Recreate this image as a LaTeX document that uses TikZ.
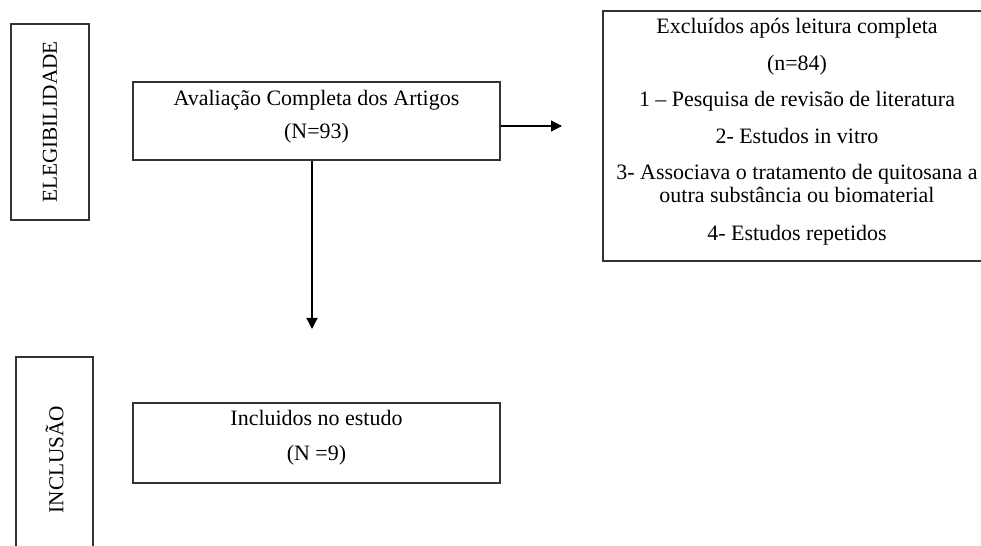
\documentclass[tikz,border=0pt]{standalone}
\usepackage{fontspec}
\setmainfont{Liberation Serif}
\usetikzlibrary{arrows.meta}

\begin{document}
\begin{tikzpicture}

\tikzset{
    box/.style={draw=black!80, line width=0.75pt, rectangle, inner sep=0pt, align=center, font=\fontsize{12.5}{13}\selectfont},
    phase/.style={draw=black!80, line width=0.75pt, rectangle, inner sep=0pt, font=\fontsize{12.1}{13}\selectfont},
    flow/.style={line width=0.7pt, -{Triangle[length=2.2mm, width=2.2mm]}}
}
\useasboundingbox (0,0) rectangle (19.62,-10.92);
\clip (0,0) rectangle (19.62,-10.92);

\node[phase, minimum width=1.56cm, minimum height=3.92cm] (elegib) at (1.0,-2.44) {\rotatebox{90}{ELEGIBILIDADE}};
\node[phase, minimum width=1.54cm, minimum height=4.1cm] (inclus) at (1.09,-9.19) {\rotatebox{90}{INCLUSÃO}};

\node[box, minimum width=7.34cm, minimum height=1.56cm, text depth=8pt] (avalia) at (6.33,-2.42) {Avaliação Completa dos Artigos\\[5.7pt] (N=93)};
\node[box, minimum width=7.76cm, minimum height=5.0cm, text depth=8pt] (exclui) at (15.94,-2.72) {Excluídos após leitura completa\\[8pt]
    (n=84)\\[7.8pt]
    1 -- Pesquisa de revisão de literatura\\[7.8pt]
    2- Estudos in vitro\\[7.6pt]
    3- Associava o tratamento de quitosana a\\
    outra substância ou biomaterial\\[8.6pt]
    4- Estudos repetidos};
\node[box, minimum width=7.34cm, minimum height=1.6cm, text depth=8.6pt] (inclui) at (6.33,-8.86) {Incluidos no estudo\\[7.4pt] (N =9)};

\coordinate (dirfim) at (11.24,-2.52);
\coordinate (baixofim) at (6.24,-6.58);
\draw[flow] (avalia.east |- dirfim) -- (dirfim);
\draw[flow] (avalia.south -| baixofim) -- (baixofim);
\end{tikzpicture}
\end{document}
